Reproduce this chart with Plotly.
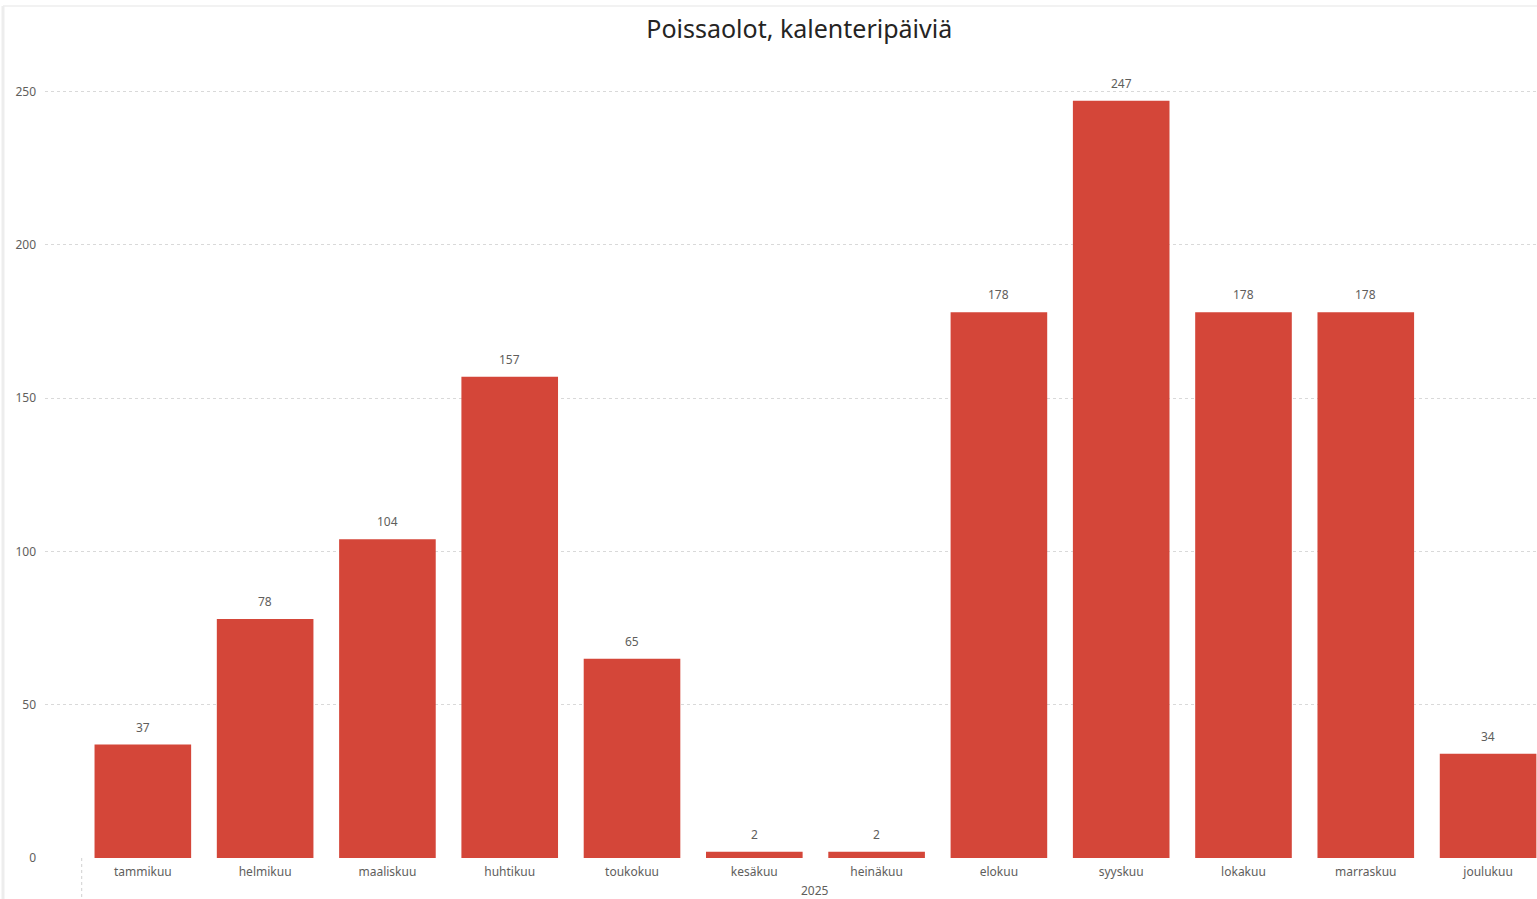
import plotly.graph_objects as go

# Monthly absence totals (calendar days), 2025
months = ["tammikuu", "helmikuu", "maaliskuu", "huhtikuu", "toukokuu", "kesäkuu",
          "heinäkuu", "elokuu", "syyskuu", "lokakuu", "marraskuu", "joulukuu"]
days = [37, 78, 104, 157, 65, 2, 2, 178, 247, 178, 178, 34]
year_label = "2025"
y_ticks = [0, 50, 100, 150, 200, 250]

BAR_COLOR = "#D44639"
LABEL_COLOR = "#605E5C"

PLOT_H = 899 - 61 - 41   # plot area height in px
PLOT_W = 1537 - 45       # plot area width in px

fig = go.Figure(
    go.Bar(
        x=list(range(len(months))),
        y=days,
        marker=dict(color=BAR_COLOR, line=dict(width=0)),
        width=0.79,
    )
)

# value labels above each bar
for i, v in enumerate(days):
    fig.add_annotation(
        x=i, y=v, xref="x", yref="y",
        text=str(v), showarrow=False,
        yanchor="bottom", yshift=7,
        font=dict(family="Noto Sans", size=12, color=LABEL_COLOR),
    )

fig.update_layout(
    width=1537,
    height=899,
    paper_bgcolor="white",
    plot_bgcolor="white",
    margin=dict(l=45, r=0, t=61, b=41),
    showlegend=False,
    title=dict(
        text="Poissaolot, kalenteripäiviä",
        x=0.52, xanchor="center",
        y=0.967, yanchor="middle",
        font=dict(family="Noto Sans", size=25, color="#252423"),
    ),
    xaxis=dict(
        tickmode="array",
        tickvals=list(range(len(months))),
        ticktext=months,
        range=[-0.8, 11.4],
        showgrid=False,
        zeroline=False,
        showline=False,
        ticks="",
        tickfont=dict(family="Noto Sans", size=12, color=LABEL_COLOR),
        ticklabelstandoff=5,
    ),
    yaxis=dict(
        range=[0, 260],
        tickvals=y_ticks,
        showgrid=True,
        gridcolor="#D9D9D9",
        griddash="dot",
        gridwidth=1,
        zeroline=False,
        showline=False,
        ticks="",
        tickfont=dict(family="Noto Sans", size=12, color=LABEL_COLOR),
        ticklabelstandoff=8,
    ),
)

# year label under the month categories
fig.add_annotation(
    x=(len(months) - 1) / 2, xref="x",
    y=-32 / PLOT_H, yref="paper", yanchor="middle",
    text=year_label, showarrow=False,
    font=dict(family="Noto Sans", size=12, color=LABEL_COLOR),
)

# dotted separator at the start of the year group
fig.add_shape(
    type="line", xref="x", yref="paper",
    x0=-0.5, x1=-0.5, y0=0, y1=-41 / PLOT_H,
    line=dict(color="#D0D0D0", width=1, dash="dot"),
)

# faint frame around the visual
top_y = (858 - 6) / PLOT_H
left_x = -42 / PLOT_W
fig.add_shape(
    type="line", xref="paper", yref="paper",
    x0=left_x, x1=1.0, y0=top_y, y1=top_y,
    line=dict(color="#F2F2F2", width=2),
)
fig.add_shape(
    type="line", xref="paper", yref="paper",
    x0=left_x, x1=left_x, y0=-41 / PLOT_H, y1=top_y,
    line=dict(color="#EDEDED", width=3),
)

fig.write_html("out.html")
